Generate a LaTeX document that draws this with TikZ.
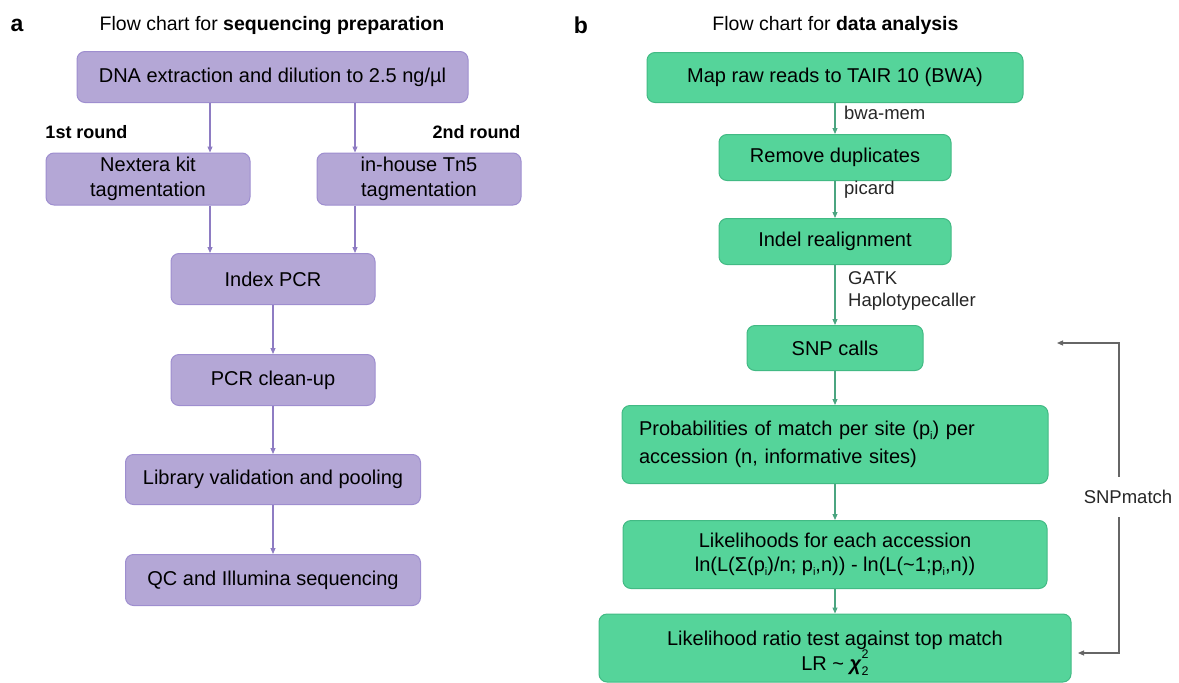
\documentclass[tikz,border=0pt]{standalone}
\usepackage{fontspec}
\setmainfont{Liberation Sans}
\usetikzlibrary{arrows.meta}
\definecolor{pfill}{HTML}{B4A7D6}
\definecolor{pline}{HTML}{9E8ECF}
\definecolor{parrow}{HTML}{8E7CC3}
\definecolor{gfill}{HTML}{55D49A}
\definecolor{gline}{HTML}{42BA84}
\definecolor{garrow}{HTML}{4BA580}
\definecolor{brk}{HTML}{666666}
\newcommand{\mysubi}{\raisebox{-0.35ex}{\fontsize{11}{11}\selectfont i}}
\newcommand{\chisq}{\textbf{\textit{χ}}\makebox[0pt][l]{\raisebox{1.05ex}{\fontsize{12.5}{12.5}\selectfont 2}}\raisebox{-0.55ex}{\fontsize{12.5}{12.5}\selectfont 2}}
\tikzset{
  pbox/.style={draw=pline, fill=pfill, line width=1pt, rounded corners=8pt, inner sep=0pt, align=center, font=\fontsize{20}{25}\selectfont},
  gbox/.style={draw=gline, fill=gfill, line width=1pt, rounded corners=8pt, inner sep=0pt, align=center, font=\fontsize{20}{24}\selectfont},
  parr/.style={draw=parrow, line width=1.1pt, -{Triangle[length=6pt,width=5pt]}},
  garr/.style={draw=garrow, line width=1.1pt, -{Triangle[length=6pt,width=5pt]}},
  barr/.style={draw=brk, line width=1.1pt, -{Triangle[length=6pt,width=5pt]}},
  panel/.style={font=\fontsize{23}{23}\selectfont\bfseries, inner sep=0pt},
  ttl/.style={font=\fontsize{19.5}{19.5}\selectfont, inner sep=0pt},
  rnd/.style={font=\fontsize{18}{18}\selectfont\bfseries, inner sep=0pt},
  lbl/.style={font=\fontsize{18.5}{18.5}\selectfont, inner sep=0pt, anchor=west, text=black!85},
}
\begin{document}
\begin{tikzpicture}[x=1pt,y=-1pt]
\useasboundingbox (0,0) rectangle (1179,683);
% ---------- panel a ----------
\node[panel] (la) at (17,25) {a};
\node[ttl] (ta) at (272,25) {Flow chart for \textbf{sequencing preparation}};
\node[pbox, minimum width=391pt, minimum height=51pt] (dna) at (272.5,77) {DNA extraction and dilution to 2.5 ng/µl};
\node[rnd] (r1) at (86.5,132) {1st round};
\node[rnd] (r2) at (476.5,132) {2nd round};
\node[pbox, minimum width=204pt, minimum height=52pt] (nex) at (148,179) {Nextera kit\\tagmentation};
\node[pbox, minimum width=204pt, minimum height=52pt] (inh) at (419,179) {in-house Tn5\\tagmentation};
\node[pbox, minimum width=204pt, minimum height=51pt] (idx) at (273,279) {Index PCR};
\node[pbox, minimum width=204pt, minimum height=51pt] (pcr) at (273,380) {PCR clean-up};
\node[pbox, minimum width=295pt, minimum height=50pt] (lib) at (273,479.5) {Library validation and pooling};
\node[pbox, minimum width=295pt, minimum height=51pt] (qc) at (273,580) {QC and Illumina sequencing};
\coordinate (ax1) at (210,0);
\coordinate (ax2) at (355,0);
\draw[parr] (dna.south -| ax1) -- (nex.north -| ax1);
\draw[parr] (dna.south -| ax2) -- (inh.north -| ax2);
\draw[parr] (nex.south -| ax1) -- (idx.north -| ax1);
\draw[parr] (inh.south -| ax2) -- (idx.north -| ax2);
\draw[parr] (idx) -- (pcr);
\draw[parr] (pcr) -- (lib);
\draw[parr] (lib) -- (qc);
% ---------- panel b ----------
\node[panel] (lb) at (581,25) {b};
\node[ttl] (tb) at (835.5,25) {Flow chart for \textbf{data analysis}};
\node[gbox, minimum width=376pt, minimum height=50pt] (map) at (835,77.5) {Map raw reads to TAIR 10 (BWA)};
\node[gbox, minimum width=232pt, minimum height=46pt] (rmd) at (835,157.5) {Remove duplicates};
\node[gbox, minimum width=232pt, minimum height=46pt] (ind) at (835,241.5) {Indel realignment};
\node[gbox, minimum width=176pt, minimum height=45pt] (snp) at (835,348) {SNP calls};
\node[gbox, minimum width=426pt, minimum height=78pt, text width=392pt, inner xsep=17pt, align=left, font=\fontsize{20}{28}\selectfont] (prob) at (835,444.5) {Probabilities of match per site (p\mysubi) per\\accession (n, informative sites)};
\node[gbox, minimum width=424pt, minimum height=68pt, font=\fontsize{20}{23.5}\selectfont] (lik) at (835,554.5) {Likelihoods for each accession\\ln(L(Σ(p\mysubi)/n; p\mysubi,n)) - ln(L(\textasciitilde 1;p\mysubi,n))};
\node[gbox, minimum width=472pt, minimum height=68pt, font=\fontsize{20}{23}\selectfont] (lr) at (835,648) {\rule{0pt}{25pt}Likelihood ratio test against top match\\LR \textasciitilde\ \chisq};
\draw[garr] (map) -- (rmd);
\draw[garr] (rmd) -- (ind);
\draw[garr] (ind) -- (snp);
\draw[garr] (snp) -- (prob);
\draw[garr] (prob) -- (lik);
\draw[garr] (lik) -- (lr);
\node[lbl] (l1) at (844,113) {bwa-mem};
\node[lbl] (l2) at (844,190) {picard};
\node[lbl] (l3) at (848,278) {GATK};
\node[lbl] (l4) at (848,302) {Haplotypecaller};
\node[font=\fontsize{18.5}{18.5}\selectfont, inner sep=0pt, minimum height=40pt, text=black!85] (sm) at (1128,497) {SNPmatch};
\coordinate (bt) at (1119,343);
\coordinate (bb) at (1119,653);
\coordinate (e1) at (1057,343);
\coordinate (e2) at (1078,653);
\draw[barr] (sm.north -| bt) -- (bt) -- (e1);
\draw[barr] (sm.south -| bb) -- (bb) -- (e2);
\end{tikzpicture}
\end{document}
